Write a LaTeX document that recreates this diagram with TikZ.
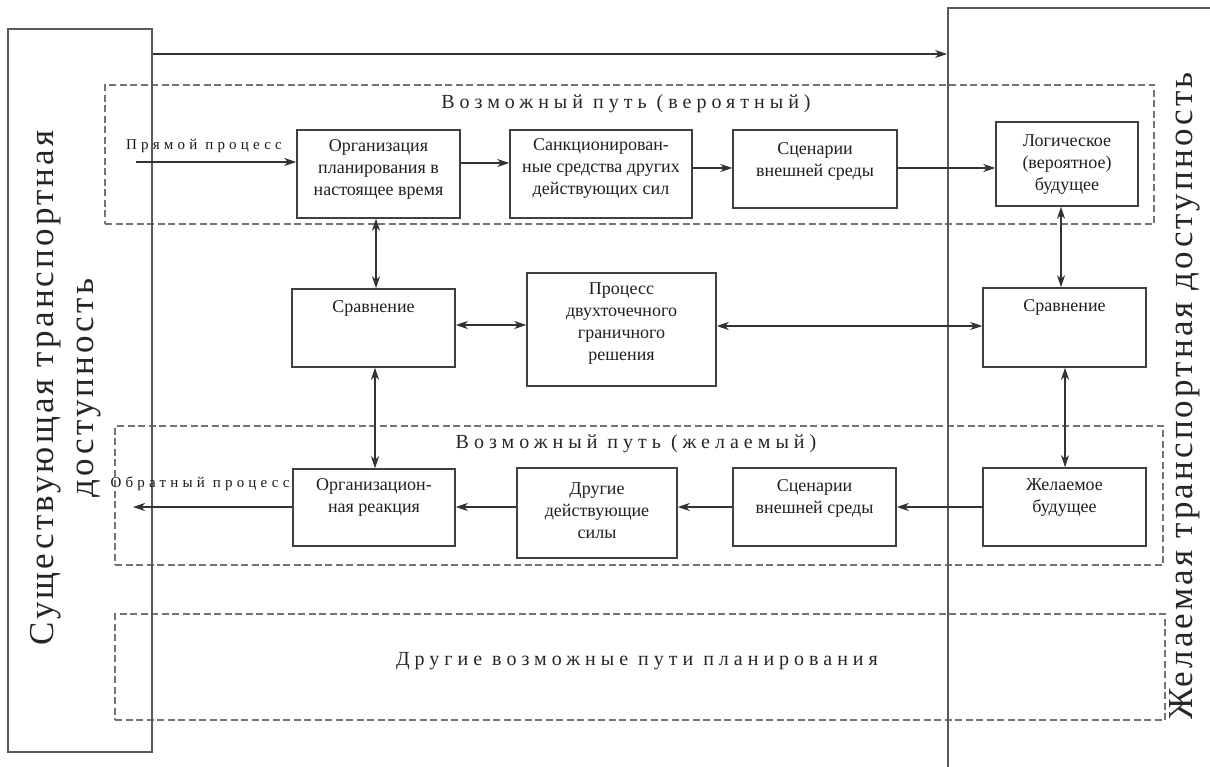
\documentclass[tikz,border=0pt]{standalone}
\usepackage{fontspec}
\setmainfont{Liberation Serif}
\newfontfamily\titlefont[LetterSpace=25]{Liberation Serif}
\newfontfamily\smallspaced[LetterSpace=28]{Liberation Serif}
\newfontfamily\vertfont[LetterSpace=9]{Liberation Serif}
\usetikzlibrary{arrows.meta}
\begin{document}
\begin{tikzpicture}[x=1pt,y=-1pt,
 box/.style={draw=black!75, line width=1.5pt, rectangle, inner sep=0pt},
 bigbox/.style={draw=black!65, line width=1.8pt, rectangle, inner sep=0pt},
 dbox/.style={draw=black!55, line width=1.3pt, dash pattern=on 7pt off 3.5pt, rectangle, inner sep=0pt},
 txt/.style={align=center, text=black!88, font=\fontsize{18}{22}\selectfont, inner sep=0pt},
 ttl/.style={text=black!85, font=\titlefont\fontsize{20}{24}\selectfont, inner sep=0pt},
 lbl/.style={text=black!90, font=\smallspaced\fontsize{15}{17}\selectfont, inner sep=0pt},
 vtxt/.style={align=center, rotate=90, text=black!85, font=\vertfont\fontsize{35}{40}\selectfont, inner sep=0pt},
 tip/.style={},
 arr/.style={draw=black!80, line width=1.3pt, -{Stealth[length=12pt,width=8pt,inset=3.5pt]}},
 darr/.style={draw=black!80, line width=1.3pt, {Stealth[length=12pt,width=8pt,inset=3.5pt]}-{Stealth[length=12pt,width=8pt,inset=3.5pt]}},
]
\useasboundingbox (0,0) rectangle (1210,767);
\clip (0,0) rectangle (1210,767);

% dashed groups
\node[dbox, minimum width=1049pt, minimum height=139pt] (D1) at (629.5,154.5) {};
\node[dbox, minimum width=1048pt, minimum height=139pt] (D2) at (639,495.5) {};
\node[dbox, minimum width=1050pt, minimum height=106pt] (D3) at (640,667) {};
\node[ttl] (T1) at (626,104) {Возможный путь (вероятный)};
\node[ttl] (T2) at (636,444) {Возможный путь (желаемый)};
\node[ttl] (T3) at (637,661) {Другие возможные пути планирования};

% big side boxes
\node[bigbox, minimum width=144pt, minimum height=723pt] (L) at (80,390.5) {};
\node[bigbox, minimum width=282pt, minimum height=782pt] (R) at (1089,399) {};
\node[vtxt] (VL) at (66,388) {Существующая транспортная\\доступность};
\node[vtxt] (VR) at (1185,396) {Желаемая транспортная доступность};

% top row
\node[box, minimum width=163pt, minimum height=88pt] (b1) at (378.5,174) {};
\node[txt] (b1t) at (378.5,169) {Организация\\планирования в\\настоящее время};
\node[box, minimum width=182pt, minimum height=88pt] (b2) at (601,174) {};
\node[txt] (b2t) at (601,168) {Санкционирован-\\ные средства других\\действующих сил};
\node[box, minimum width=164pt, minimum height=78pt] (b3) at (815,169) {};
\node[txt] (b3t) at (815,161) {Сценарии\\внешней среды};
\node[box, minimum width=142pt, minimum height=84pt] (b4) at (1067,164) {};
\node[txt] (b4t) at (1067,164.5) {Логическое\\(вероятное)\\будущее};

% middle row
\node[box, minimum width=163pt, minimum height=78pt] (sL) at (373.5,328) {};
\node[txt] (sLt) at (373.5,308) {Сравнение};
\node[box, minimum width=189pt, minimum height=113pt] (proc) at (621.5,329.5) {};
\node[txt] (proct) at (621.5,324) {Процесс\\двухточечного\\граничного\\решения};
\node[box, minimum width=163pt, minimum height=79pt] (sR) at (1064.5,327.5) {};
\node[txt] (sRt) at (1064.5,307) {Сравнение};

% bottom row
\node[box, minimum width=162pt, minimum height=77pt] (org) at (374,507.5) {};
\node[txt] (orgt) at (374,497.5) {Организацион-\\ная реакция};
\node[box, minimum width=160pt, minimum height=90pt] (oth) at (597,513) {};
\node[txt] (otht) at (597,511) {Другие\\действующие\\силы};
\node[box, minimum width=163pt, minimum height=78pt] (sc2) at (814.5,507) {};
\node[txt] (sc2t) at (814.5,498) {Сценарии\\внешней среды};
\node[box, minimum width=163pt, minimum height=78pt] (zh) at (1064.5,507) {};
\node[txt] (zht) at (1064.5,498) {Желаемое\\будущее};

% labels of processes
\node[lbl] (lblF) at (204,146) {Прямой процесс};
\node[lbl] (lblB) at (200,484) {Обратный процесс};

% connectors
\draw[arr] ([yshift=336.5pt]L.east) -- ([yshift=336.5pt]L.east -| R.west);
\coordinate (fwdstart) at (136,162);
\draw[arr] (fwdstart) -- (fwdstart -| b1.west);
\draw[arr] ([yshift=11pt]b1.east) -- ([yshift=11pt]b1.east -| b2.west);
\draw[arr] ([yshift=6pt]b2.east) -- ([yshift=6pt]b2.east -| b3.west);
\draw[arr] ([yshift=1pt]b3.east) -- ([yshift=1pt]b3.east -| b4.west);

\draw[darr] ([xshift=-2.5pt]b1.south) -- ([xshift=-2.5pt]b1.south |- sL.north);
\draw[darr] ([xshift=1.5pt]sL.south) -- ([xshift=1.5pt]sL.south |- org.north);
\draw[darr] ([xshift=-6pt]b4.south) -- ([xshift=-6pt]b4.south |- sR.north);
\draw[darr] ([xshift=0.5pt]sR.south) -- ([xshift=0.5pt]sR.south |- zh.north);
\draw[darr] ([yshift=3pt]sL.east) -- ([yshift=3pt]sL.east -| proc.west);
\draw[darr] ([yshift=3.5pt]proc.east) -- ([yshift=3.5pt]proc.east -| sR.west);

\draw[arr] (zh.west) -- (zh.west -| sc2.east);
\draw[arr] (sc2.west) -- (sc2.west -| oth.east);
\draw[arr] ([yshift=6pt]oth.west) -- ([yshift=6pt]oth.west -| org.east);
\coordinate (bwdend) at (133,507);
\draw[arr] (org.west |- bwdend) -- (bwdend);
\end{tikzpicture}
\end{document}
